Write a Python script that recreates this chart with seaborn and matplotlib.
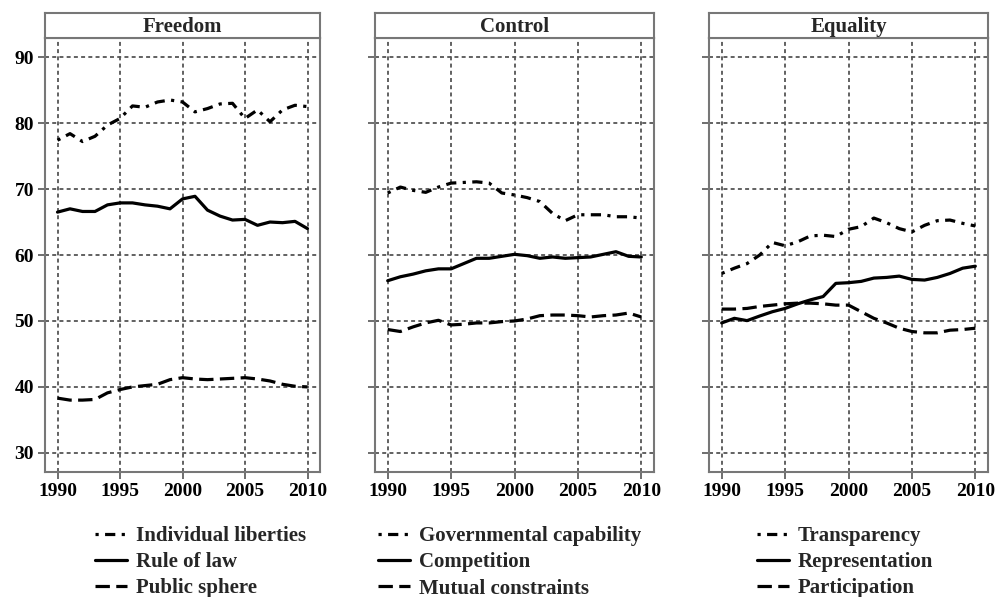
import numpy as np
import pandas as pd
import matplotlib
matplotlib.use("Agg")
import matplotlib.pyplot as plt
import seaborn as sns

years = list(range(1990, 2011))

panels = ["Freedom", "Control", "Equality"]

# Freedom
individual_liberties = [77.4, 78.4, 77.2, 78.0, 79.7, 80.7, 82.6, 82.4, 83.2, 83.5, 83.2,
                        81.7, 82.2, 82.9, 83.0, 80.7, 82.0, 80.2, 82.0, 82.7, 82.5]
rule_of_law = [66.5, 67.0, 66.6, 66.6, 67.6, 67.9, 67.9, 67.6, 67.4, 67.0, 68.5,
               68.9, 66.8, 65.9, 65.3, 65.4, 64.5, 65.0, 64.9, 65.1, 64.0]
public_sphere = [38.3, 38.0, 38.0, 38.1, 39.1, 39.6, 40.0, 40.2, 40.4, 41.1, 41.4,
                 41.2, 41.1, 41.2, 41.3, 41.4, 41.2, 40.9, 40.4, 40.1, 40.0]
# Control
governmental_capability = [69.4, 70.3, 69.8, 69.5, 70.3, 70.9, 71.0, 71.1, 70.9, 69.4, 69.1,
                           68.7, 68.1, 66.3, 65.2, 66.1, 66.1, 66.1, 65.8, 65.8, 65.6]
competition = [56.1, 56.7, 57.1, 57.6, 57.9, 57.9, 58.7, 59.5, 59.5, 59.8, 60.1,
               59.9, 59.5, 59.7, 59.5, 59.6, 59.7, 60.1, 60.5, 59.8, 59.7]
mutual_constraints = [48.7, 48.4, 49.1, 49.7, 50.1, 49.4, 49.5, 49.7, 49.7, 49.9, 50.0,
                      50.3, 50.8, 50.9, 50.9, 50.8, 50.6, 50.8, 50.9, 51.2, 50.6]
# Equality
transparency = [57.2, 58.0, 58.7, 60.0, 61.9, 61.4, 62.0, 62.9, 63.0, 62.8, 63.9,
                64.3, 65.6, 64.9, 64.0, 63.5, 64.5, 65.2, 65.3, 64.8, 64.4]
representation = [49.7, 50.4, 50.05, 50.75, 51.4, 51.9, 52.6, 53.2, 53.7, 55.7, 55.8,
                  56.0, 56.5, 56.6, 56.8, 56.3, 56.2, 56.6, 57.2, 58.0, 58.3]
participation = [51.8, 51.8, 51.9, 52.2, 52.4, 52.6, 52.7, 52.7, 52.6, 52.4, 52.4,
                 51.4, 50.4, 49.7, 48.9, 48.4, 48.2, 48.2, 48.6, 48.7, 48.9]

series_names = {
    "Freedom": ["Individual liberties", "Rule of law", "Public sphere"],
    "Control": ["Governmental capability", "Competition", "Mutual constraints"],
    "Equality": ["Transparency", "Representation", "Participation"],
}
series_values = {
    "Individual liberties": individual_liberties, "Rule of law": rule_of_law,
    "Public sphere": public_sphere, "Governmental capability": governmental_capability,
    "Competition": competition, "Mutual constraints": mutual_constraints,
    "Transparency": transparency, "Representation": representation,
    "Participation": participation,
}
year_ticks = [1990, 1995, 2000, 2005, 2010]
value_ticks = [30, 40, 50, 60, 70, 80, 90]

rows = []
for p in panels:
    for k, s in enumerate(series_names[p]):
        for y, v in zip(years, series_values[s]):
            rows.append({"panel": p, "series": s, "kind": k, "year": y, "value": v})
df = pd.DataFrame(rows)

sns.set_theme(style="ticks")
plt.rcParams["font.family"] = ["Liberation Serif", "DejaVu Serif"]
plt.rcParams["font.weight"] = "bold"

fig = plt.figure(figsize=(10, 5.97), dpi=100)

W, H = 1000, 597
ax_lefts = [45, 375, 709]
ax_widths = [275, 279, 279]
ax_bottom_px, ax_top_px = 472, 38
title_top_px = 13
legend_x = [95, 378, 757]

dash_styles = {0: (1.0, 2.0, 3.2, 2.0), 1: "", 2: (4.5, 2.0)}
grid_color = "#555555"
frame_color = "#777777"

for i, p in enumerate(panels):
    l = ax_lefts[i] / W
    w = ax_widths[i] / W
    b = 1 - ax_bottom_px / H
    h = (ax_bottom_px - ax_top_px) / H
    ax = fig.add_axes([l, b, w, h])
    sub = df[df.panel == p]
    sns.lineplot(data=sub, x="year", y="value", style="series",
                 style_order=series_names[p],
                 dashes={series_names[p][k]: dash_styles[k] for k in range(3)},
                 color="black", linewidth=2.3, ax=ax, legend=False)
    ax.set_xlim(1989.0, 2011.0)
    ax.set_ylim(27.1, 92.9)
    ax.set_xticks(year_ticks)
    ax.set_yticks(value_ticks)
    ax.set_xlabel("")
    ax.set_ylabel("")
    if i > 0:
        ax.set_yticklabels([])
    ax.tick_params(axis="both", direction="out", length=5, width=1.2,
                   color=grid_color, labelsize=14, labelcolor="black", pad=3)
    ax.grid(True, color=grid_color, linestyle=(0, (2.2, 1.8)), linewidth=1.3)
    ax.set_axisbelow(True)
    for sp in ax.spines.values():
        sp.set_visible(True)
        sp.set_color(frame_color)
        sp.set_linewidth(1.5)

    # title strip
    tb = 1 - ax_top_px / H
    th = (ax_top_px - title_top_px) / H
    tax = fig.add_axes([l, tb, w, th])
    tax.set_xticks([])
    tax.set_yticks([])
    for sp in tax.spines.values():
        sp.set_color(frame_color)
        sp.set_linewidth(1.5)
    tax.text(0.5, 0.45, p, ha="center", va="center", fontsize=15,
             fontweight="bold", transform=tax.transAxes)

    handles = ax.get_lines()[:3]
    fig.legend(handles, series_names[p], loc="upper left",
               bbox_to_anchor=(legend_x[i] / W, 1 - 526 / H),
               frameon=False, handlelength=1.55,
               handletextpad=0.4, labelspacing=0.3, borderpad=0,
               borderaxespad=0, prop={"weight": "bold", "size": 15})

fig.savefig("out.png", dpi=100)
